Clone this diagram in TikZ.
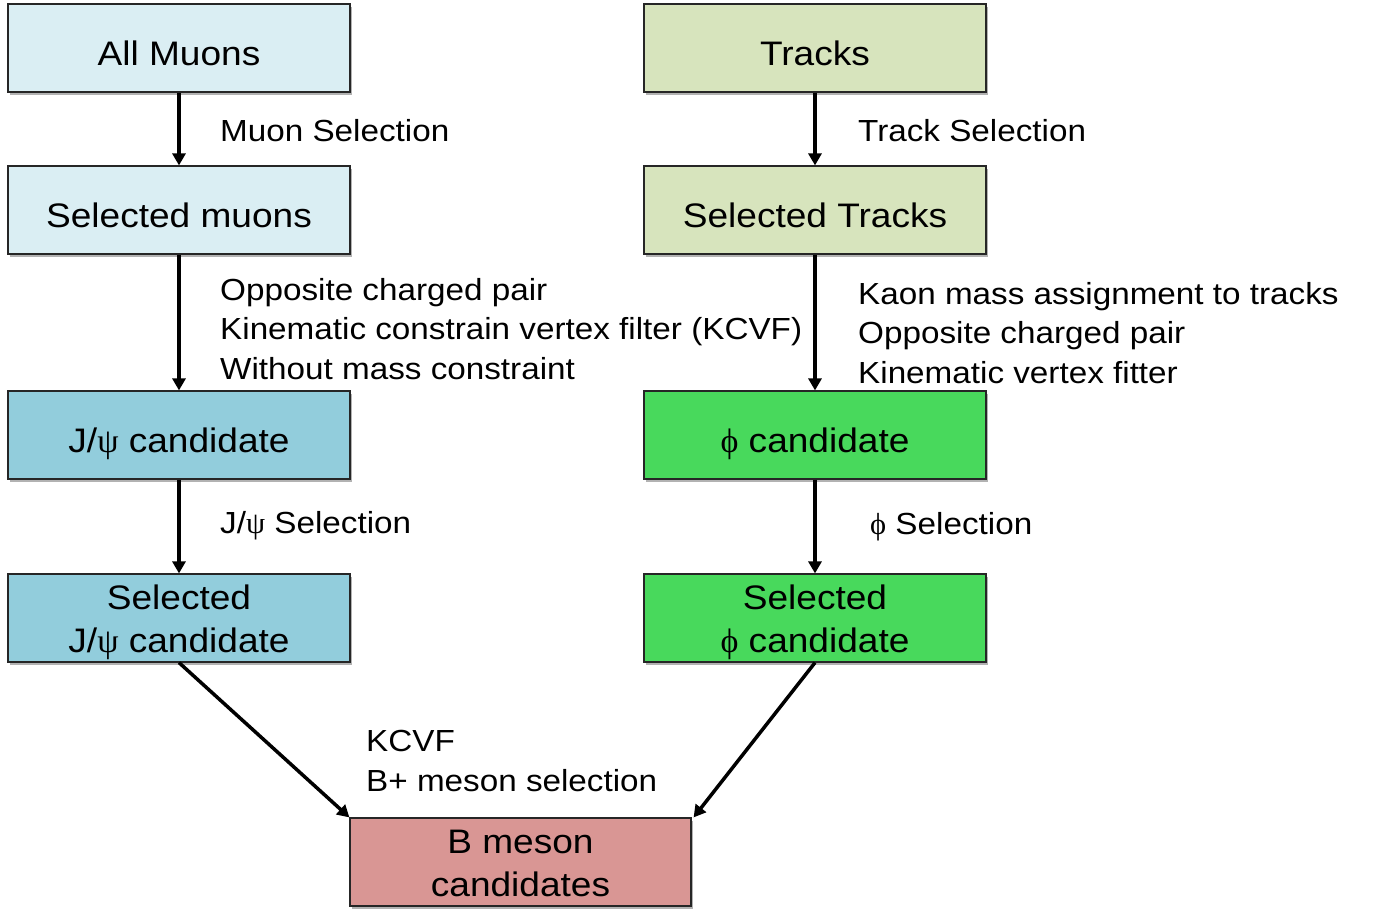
\documentclass[tikz,border=0pt]{standalone}
\usepackage{fontspec}
\setmainfont[FakeStretch=1.09]{Liberation Sans}
\newfontfamily\grk{Liberation Serif}
\usetikzlibrary{arrows.meta,shadows}
\definecolor{cLB}{HTML}{DAEEF3}
\definecolor{cMB}{HTML}{92CDDC}
\definecolor{cLG}{HTML}{D7E4BD}
\definecolor{cBG}{HTML}{48D95C}
\definecolor{cRD}{HTML}{D99694}
\newcommand{\bxt}[2][8.4pt]{\raisebox{-#1}[\height][\depth]{\begin{tabular}{@{}c@{}}#2\end{tabular}}}
\newcommand{\psy}{{\grk ψ}}
\newcommand{\phy}{{\grk ϕ}}
\begin{document}
\begin{tikzpicture}[x=1pt,y=-1pt,
  box/.style={draw=black!85,line width=1.2pt,minimum width=342pt,minimum height=88pt,
    inner sep=0pt,align=center,font=\fontsize{34}{43}\selectfont,
    drop shadow={shadow xshift=2pt,shadow yshift=-3pt,opacity=0.3,fill=black}},
  lbl/.style={anchor=west,align=left,inner sep=0pt,font=\fontsize{30.5}{39.5}\selectfont},
  arr/.style={line width=3.5pt,-{Triangle[width=13pt,length=12pt]}}]
\useasboundingbox (0,0) rectangle (1382,922);
\node[box,fill=cLB] (am) at (179,48) {\bxt{All Muons}};
\node[box,fill=cLB] (sm) at (179,210) {\bxt{Selected muons}};
\node[box,fill=cMB] (jc) at (179,435) {\bxt{J/\psy{} candidate}};
\node[box,fill=cMB] (js) at (179,618) {\bxt[4.5pt]{Selected\\J/\psy{} candidate}};
\node[box,fill=cLG] (tr) at (815,48) {\bxt{Tracks}};
\node[box,fill=cLG] (st) at (815,210) {\bxt{Selected Tracks}};
\node[box,fill=cBG] (pc) at (815,435) {\bxt{\phy{} candidate}};
\node[box,fill=cBG] (ps) at (815,618) {\bxt[4.5pt]{Selected\\\phy{} candidate}};
\node[box,fill=cRD,minimum width=341pt] (bm) at (520.5,862) {\bxt[4.5pt]{B meson\\candidates}};
\draw[arr] (am) -- (sm);
\draw[arr] (sm) -- (jc);
\draw[arr] (jc) -- (js);
\draw[arr] (tr) -- (st);
\draw[arr] (st) -- (pc);
\draw[arr] (pc) -- (ps);
\draw[arr] (js.south) -- (bm.north west);
\draw[arr] (ps.south) -- ([xshift=2pt]bm.north east);
\node[lbl] (l1) at (220,131) {Muon Selection};
\node[lbl] (l2) at (858,131) {Track Selection};
\node[lbl] (l3) at (220,329) {Opposite charged pair\\Kinematic constrain vertex filter (KCVF)\\Without mass constraint};
\node[lbl] (l4) at (858,333) {Kaon mass assignment to tracks\\Opposite charged pair\\Kinematic vertex fitter};
\node[lbl] (l5) at (220,526) {J/\psy{} Selection};
\node[lbl] (l6) at (870,527) {\phy{} Selection};
\node[lbl] (l7) at (366,761) {KCVF\\B+ meson selection};
\end{tikzpicture}
\end{document}
